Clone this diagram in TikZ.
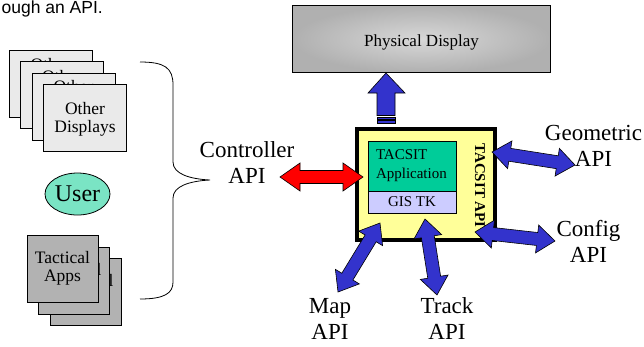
\documentclass[tikz,border=0pt]{standalone}
\usepackage{fontspec}
\setmainfont{Liberation Serif}
\newfontfamily\arialfont{Liberation Sans}
\usetikzlibrary{calc,shapes.geometric}
\definecolor{arrblue}{RGB}{51,51,204}
\definecolor{tacyellow}{RGB}{255,255,153}
\definecolor{tacgreen}{RGB}{0,204,153}
\definecolor{gislav}{RGB}{204,204,255}
\definecolor{usergreen}{RGB}{122,228,196}
\definecolor{otherfill}{RGB}{234,234,234}
\definecolor{tacfill}{RGB}{178,178,178}
\definecolor{physout}{RGB}{176,176,176}
\definecolor{physin}{RGB}{216,216,216}
% double block arrow: from, to, style, head length, half head width, half shaft width
\newcommand{\dblarrow}[6]{%
 \coordinate (dah1) at ($(#1)!#4!(#2)$);
 \coordinate (dah2) at ($(#2)!#4!(#1)$);
 \draw[#3] (#1) -- ($(dah1)!#5!90:(#2)$) -- ($(dah1)!#6!90:(#2)$)
   -- ($(dah2)!#6!-90:(#1)$) -- ($(dah2)!#5!-90:(#1)$) -- (#2)
   -- ($(dah2)!#5!90:(#1)$) -- ($(dah2)!#6!90:(#1)$)
   -- ($(dah1)!#6!-90:(#2)$) -- ($(dah1)!#5!-90:(#2)$) -- cycle;}
\tikzset{
 blk/.style={draw=black, line width=0.6pt, line join=miter},
 bluearr/.style={blk, fill=arrblue},
 redarr/.style={blk, fill=red},
 apilbl/.style={align=center, font=\fontsize{23}{26}\selectfont, inner sep=0pt, anchor=base},
 otherbox/.style={draw=black, line width=0.8pt, fill=otherfill, minimum width=83pt, minimum height=67pt, inner sep=0pt, align=center, font=\fontsize{17.5}{18}\selectfont},
 peek/.style={inner sep=0pt, anchor=base, font=\fontsize{17.5}{18}\selectfont},
 tacbox/.style={draw=black, line width=0.8pt, fill=tacfill, minimum width=71pt, minimum height=67pt, inner sep=0pt, align=center, font=\fontsize{17.5}{18}\selectfont},
}
\begin{document}
\begin{tikzpicture}[x=1pt,y=-1pt]
\useasboundingbox (0,0) rectangle (644,346);
% caption fragment
\node[anchor=base east, inner sep=0pt, font=\arialfont\fontsize{17.5}{20}\selectfont] (cap) at (103,13.5) {ough an API.};
% Other displays stack
\node[otherbox] (od1) at (50.5,84) {};
\node[peek] (od1t) at (50.5,70) {Other};
\node[otherbox] (od2) at (62,95.25) {};
\node[peek] (od2t) at (62,82) {Other};
\node[otherbox] (od3) at (73.5,106.5) {};
\node[peek] (od3t) at (73.5,92) {Other};
\node[otherbox, text depth=0pt] (od4) at (85,117.5) {Other\\Displays};
% user
\node[ellipse, draw=black, line width=0.8pt, fill=usergreen, minimum width=65pt, minimum height=42pt, inner sep=0pt, font=\fontsize{24}{26}\selectfont] (user) at (77.5,194) {User};
% tactical apps stack
\node[tacbox] (ta3) at (86,291.5) {Tactical\\Apps};
\node[tacbox] (ta2) at (74,280.5) {Tactical\\Apps};
\node[tacbox] (ta1) at (62.5,268.5) {Tactical\\Apps};
% brace
\draw[line width=0.8pt] (140,62) .. controls (165,62) and (173,68) .. (173,85) -- (173,162)
  .. controls (173,174) and (190,179) .. (210,180)
  .. controls (190,181) and (173,186) .. (173,198) -- (173,282)
  .. controls (173,293) and (165,299) .. (140,299);
% physical display
\node[draw=black, line width=1pt, inner color=physin, outer color=physout, minimum width=258pt, minimum height=67pt, text height=14pt, text depth=0pt, inner sep=0pt, font=\fontsize{17}{19}\selectfont] (phys) at (421.5,39) {Physical Display};
% TACSIT box
\node[draw=black, line width=4pt, fill=tacyellow, minimum width=138pt, minimum height=111pt] (tacsit) at (426,184.5) {};
\node[draw=black, line width=0.7pt, fill=tacgreen, minimum width=88pt, minimum height=50pt, text width=72pt, align=left, inner sep=0pt, font=\fontsize{15}{19}\selectfont] (app) at (412,166) {TACSIT\\Application};
\node[draw=black, line width=0.7pt, fill=gislav, minimum width=88pt, minimum height=22pt, inner sep=0pt, font=\fontsize{15}{18}\selectfont] (gis) at (412,202) {GIS TK};
\node[rotate=-90, inner sep=0pt, font=\bfseries\fontsize{15}{18}\selectfont] (tapi) at (480,185.5) {TACSIT API};
% up arrow to physical display
\coordinate (uptip) at (386,73);
\begin{scope}[shift={(uptip)}]
\draw[bluearr] (0,0) -- (19,20) -- (9,20) -- (9,42.5) -- (-9,42.5) -- (-9,20) -- (-18,20) -- cycle;
\draw[bluearr] (-9,44) rectangle (9,45.8);
\draw[bluearr] (-9,47) rectangle (9,50);
\end{scope}
% labels (anchor base = baseline of last line)
\node[apilbl] (ctrl) at (247,183) {Controller\\API};
\node[apilbl] (geo) at (593.5,166) {Geometric\\API};
\node[apilbl] (conf) at (588.5,262) {Config\\API};
\node[apilbl] (map) at (330,339) {Map\\API};
\node[apilbl] (track) at (447,339) {Track\\API};
% arrow end points
\coordinate (ctrlA) at (280,177); \coordinate (ctrlB) at (363,177);
\coordinate (geoA) at (492,152); \coordinate (geoB) at (575,165);
\coordinate (confA) at (475,232); \coordinate (confB) at (555,241);
\coordinate (mapA) at (380,223); \coordinate (mapB) at (338,292);
\coordinate (trackA) at (425,219); \coordinate (trackB) at (437,295);
\dblarrow{ctrlA}{ctrlB}{redarr}{20pt}{14pt}{6.5pt}
\dblarrow{geoA}{geoB}{bluearr}{18pt}{14pt}{6.5pt}
\dblarrow{confA}{confB}{bluearr}{18pt}{14pt}{6.5pt}
\dblarrow{mapA}{mapB}{bluearr}{18pt}{14pt}{6.5pt}
\dblarrow{trackA}{trackB}{bluearr}{18pt}{14pt}{6.5pt}
\end{tikzpicture}
\end{document}
